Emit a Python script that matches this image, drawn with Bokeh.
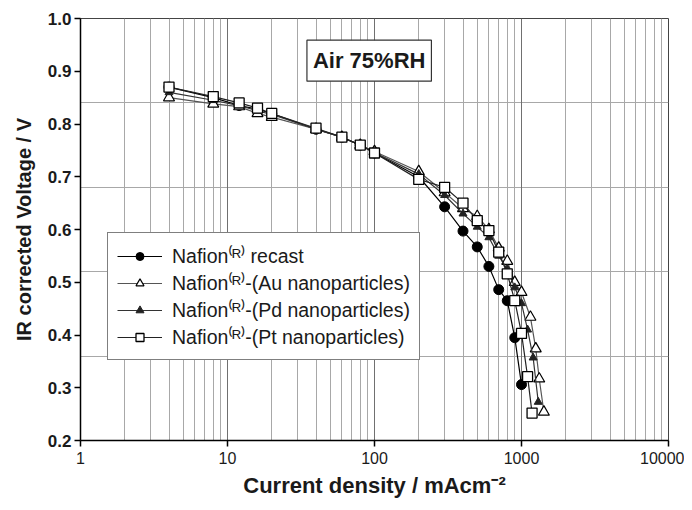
from bokeh.plotting import figure
from bokeh.models import FixedTicker, Label, Grid
from bokeh.embed import file_html
from bokeh.resources import INLINE

# ---- data ----
cur_recast = [4, 8, 12, 16, 20, 40, 60, 80, 100, 200, 300, 400, 500, 600, 700, 800, 900, 1000]
volt_recast = [0.870, 0.850, 0.835, 0.828, 0.820, 0.790, 0.775, 0.760, 0.745, 0.700, 0.643, 0.597, 0.567, 0.530, 0.486, 0.465, 0.395, 0.306]

cur_au = [4, 8, 12, 16, 20, 40, 60, 80, 100, 200, 300, 400, 500, 600, 700, 800, 900, 1000, 1150, 1250, 1320, 1420]
volt_au = [0.850, 0.838, 0.833, 0.820, 0.813, 0.790, 0.775, 0.760, 0.748, 0.710, 0.670, 0.640, 0.625, 0.600, 0.565, 0.540, 0.500, 0.481, 0.434, 0.374, 0.317, 0.254]

cur_pd = [4, 8, 12, 16, 20, 40, 60, 80, 100, 200, 300, 400, 500, 600, 700, 800, 900, 1000, 1100, 1200, 1300]
volt_pd = [0.860, 0.845, 0.835, 0.825, 0.818, 0.790, 0.775, 0.760, 0.746, 0.705, 0.665, 0.630, 0.605, 0.585, 0.550, 0.525, 0.490, 0.460, 0.410, 0.357, 0.273]

cur_pt = [4, 8, 12, 16, 20, 40, 60, 80, 100, 200, 300, 400, 500, 600, 700, 800, 900, 1000, 1100, 1180]
volt_pt = [0.870, 0.852, 0.840, 0.830, 0.820, 0.792, 0.775, 0.760, 0.745, 0.695, 0.680, 0.650, 0.617, 0.598, 0.557, 0.516, 0.465, 0.403, 0.321, 0.252]

x_ticks = [1, 10, 100, 1000, 10000]
x_tick_labels = ["1", "10", "100", "1000", "10000"]
y_ticks = [0.2, 0.3, 0.4, 0.5, 0.6, 0.7, 0.8, 0.9, 1.0]
y_tick_labels = ["0.2", "0.3", "0.4", "0.5", "0.6", "0.7", "0.8", "0.9", "1.0"]
h_grid_values = [0.36, 0.52, 0.68, 0.84]
minor_multipliers = [2, 3, 4, 5, 6, 7, 8, 9]

FONT = "Liberation Sans"

p = figure(width=684, height=502, x_axis_type="log",
           x_range=(1, 10000), y_range=(0.2, 1.0),
           output_backend="svg", toolbar_location=None,
           min_border_left=80, min_border_right=16,
           min_border_top=18, min_border_bottom=62)

p.background_fill_color = "white"
p.outline_line_color = "#444444"
p.outline_line_width = 1

# grids
minor_pos = [m * d for d in [1, 10, 100, 1000] for m in minor_multipliers]
p.xgrid.ticker = FixedTicker(ticks=minor_pos)
p.xgrid.grid_line_color = "#a8a8a8"
p.xgrid.grid_line_width = 1
major_grid = Grid(dimension=0, ticker=FixedTicker(ticks=[10, 100, 1000]),
                  grid_line_color="#707070", grid_line_width=1)
p.add_layout(major_grid)
p.ygrid.ticker = FixedTicker(ticks=h_grid_values)
p.ygrid.grid_line_color = "#a8a8a8"
p.ygrid.grid_line_width = 1

# axes
p.xaxis.ticker = FixedTicker(ticks=x_ticks)
p.xaxis.major_label_overrides = {t: l for t, l in zip(x_ticks, x_tick_labels)}
p.yaxis.ticker = FixedTicker(ticks=y_ticks)
p.yaxis.major_label_overrides = {t: l for t, l in zip(y_ticks, y_tick_labels)}
for ax in (p.xaxis[0], p.yaxis[0]):
    ax.axis_line_color = "black"
    ax.axis_line_width = 1.5
    ax.major_tick_line_color = "black"
    ax.major_tick_line_width = 1.5
    ax.major_tick_out = 6
    ax.major_tick_in = 0
    ax.minor_tick_out = 0
    ax.minor_tick_in = 0
    ax.major_label_text_font = FONT
    ax.major_label_text_color = "#1a1a1a"
    ax.axis_label_text_font = FONT
    ax.axis_label_text_font_style = "bold"
    ax.axis_label_text_color = "#1a1a1a"

p.xaxis.major_label_text_font_size = "16px"
p.xaxis.major_label_standoff = 5
p.yaxis.major_label_text_font_size = "17px"
p.yaxis.major_label_text_font_style = "bold"
p.yaxis.major_label_standoff = 3
p.xaxis.axis_label = "Current density / mAcm\u207b\u00b2"
p.xaxis.axis_label_text_font_size = "22px"
p.xaxis.axis_label_standoff = 6
p.yaxis.axis_label = "IR corrected Voltage / V"
p.yaxis.axis_label_text_font_size = "20px"
p.yaxis.axis_label_standoff = 10

LBL = ["Nafion\u207d\u1d3f\u207e recast",
       "Nafion\u207d\u1d3f\u207e-(Au nanoparticles)",
       "Nafion\u207d\u1d3f\u207e-(Pd nanoparticles)",
       "Nafion\u207d\u1d3f\u207e-(Pt nanoparticles)"]

# series
p.line(cur_recast, volt_recast, line_color="black", line_width=1.2, legend_label=LBL[0])
p.scatter(cur_recast, volt_recast, marker="circle", size=10, fill_color="black",
          line_color="black", legend_label=LBL[0])

p.line(cur_au, volt_au, line_color="#555555", line_width=1.2, legend_label=LBL[1])
p.scatter(cur_au, volt_au, marker="triangle", size=11, fill_color="white",
          line_color="black", line_width=1.2, legend_label=LBL[1])

p.line(cur_pd, volt_pd, line_color="#333333", line_width=1.2, legend_label=LBL[2])
p.scatter(cur_pd, volt_pd, marker="triangle", size=8, fill_color="#222222",
          line_color="#222222", legend_label=LBL[2])

p.line(cur_pt, volt_pt, line_color="#222222", line_width=1.2, legend_label=LBL[3])
p.scatter(cur_pt, volt_pt, marker="square", size=10, fill_color="white",
          line_color="black", line_width=1.3, legend_label=LBL[3])

# legend
lg = p.legend[0]
lg.location = (27, 80)
lg.margin = 0
lg.padding = 9
lg.spacing = 0
lg.label_height = 20
lg.glyph_height = 20
lg.glyph_width = 45
lg.label_standoff = 10
lg.label_text_font = FONT
lg.label_text_font_size = "19.5px"
lg.label_text_color = "#1a1a1a"
lg.border_line_color = "black"
lg.border_line_width = 1.2
lg.background_fill_color = "white"
lg.background_fill_alpha = 1.0

# annotation box
note = Label(x=92, y=0.920, text="Air 75%RH", text_align="center",
             text_baseline="middle", text_font=FONT, text_font_style="bold",
             text_font_size="22px", text_color="#1a1a1a",
             background_fill_color="white", background_fill_alpha=1.0,
             border_line_color="#333333", border_line_width=1.2,
             padding=dict(left=6, right=6, top=8, bottom=8))
p.add_layout(note)

open("out.html", "w").write(file_html(p, INLINE))
